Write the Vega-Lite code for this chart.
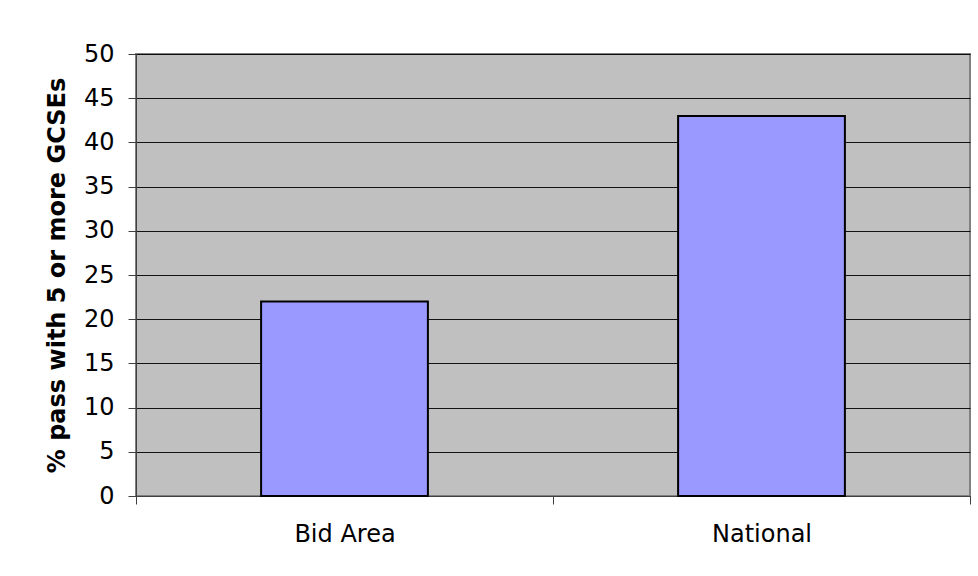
{
  "$schema": "https://vega.github.io/schema/vega-lite/v6.json",
  "width": 834,
  "height": 442,
  "autosize": {"type": "none"},
  "padding": {"left": 136, "top": 54, "right": 8, "bottom": 80},
  "background": "white",
  "data": {"values": [
    {"area": "Bid Area", "pct": 22},
    {"area": "National", "pct": 43}
  ]},
  "mark": {"type": "bar", "fill": "#9999FF", "stroke": "#000000", "strokeWidth": 2, "width": {"band": 0.4}},
  "encoding": {
    "x": {
      "field": "area", "type": "nominal", "sort": null,
      "scale": {"paddingInner": 0, "paddingOuter": 0},
      "axis": {
        "title": null, "labelAngle": 0, "tickBand": "extent", "ticks": true,
        "tickSize": 8, "tickColor": "#404040", "domainColor": "#404040", "domainWidth": 1,
        "labelFont": "DejaVu Sans", "labelFontSize": 24, "labelColor": "#000000",
        "labelPadding": 18, "grid": false
      }
    },
    "y": {
      "field": "pct", "type": "quantitative",
      "scale": {"domain": [0, 50], "nice": false},
      "axis": {
        "title": "% pass with 5 or more GCSEs",
        "titleFont": "DejaVu Sans", "titleFontWeight": "bold", "titleFontSize": 24,
        "titleColor": "#000000", "titlePadding": 14,
        "values": [0, 5, 10, 15, 20, 25, 30, 35, 40, 45, 50],
        "labelFont": "DejaVu Sans", "labelFontSize": 24, "labelColor": "#000000",
        "labelPadding": 14, "tickSize": 8, "tickColor": "#404040",
        "domainColor": "#404040", "domainWidth": 1,
        "grid": true, "gridColor": "#000000", "gridOpacity": 0.9, "gridWidth": 1
      }
    }
  },
  "config": {
    "view": {"fill": "#C0C0C0", "stroke": "#808080", "strokeWidth": 2}
  }
}
